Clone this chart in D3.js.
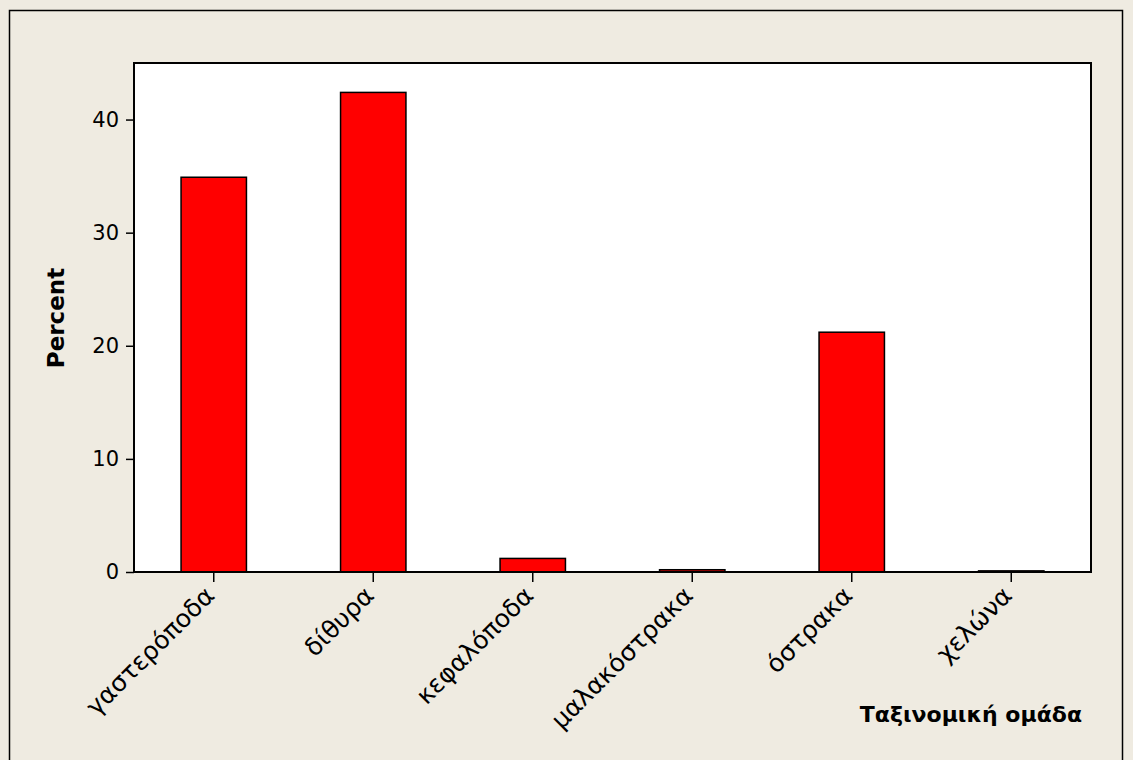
<!DOCTYPE html>
<html><head><meta charset="utf-8">
<script src="https://cdn.jsdelivr.net/npm/d3@7"></script>
<style>body{margin:0;background:#EFEBE1;} svg{display:block;}</style>
</head><body>
<svg id="c" width="1133" height="760"></svg>
<script>
const categories = ["γαστερόποδα","δίθυρα","κεφαλόποδα","μαλακόστρακα","όστρακα","χελώνα"];
const percents = [34.9, 42.4, 1.2, 0.2, 21.2, 0.1];
const yTicks = [0, 10, 20, 30, 40];
const xTitle = "Ταξινομική ομάδα";
const yTitle = "Percent";

const svg = d3.select("#c");
const W = 1133, H = 760;
const m = {left: 134, top: 63, right: 1091, bottom: 572};

svg.append("rect").attr("x",0).attr("y",0).attr("width",W).attr("height",H).attr("fill","#EFEBE1");
svg.append("rect").attr("x",9.5).attr("y",10.5).attr("width",1113).attr("height",800)
  .attr("fill","#EFEBE1").attr("stroke","#000").attr("stroke-width",1.5);
svg.append("rect").attr("x",m.left).attr("y",m.top).attr("width",m.right-m.left).attr("height",m.bottom-m.top)
  .attr("fill","#fff");

const x = d3.scaleBand().domain(categories).range([m.left, m.right]).paddingInner(0.59).paddingOuter(0.295);
const y = d3.scaleLinear().domain([0, 45]).range([m.bottom, m.top]);

svg.append("g").selectAll("rect").data(categories).join("rect")
  .attr("x", d => x(d)).attr("width", x.bandwidth())
  .attr("y", (d,i) => y(percents[i])).attr("height", (d,i) => y(0) - y(percents[i]))
  .attr("fill", "#FF0000").attr("stroke", "#000").attr("stroke-width", 1.5);

// frame
svg.append("rect").attr("x",m.left).attr("y",m.top).attr("width",m.right-m.left).attr("height",m.bottom-m.top)
  .attr("fill","none").attr("stroke","#000").attr("stroke-width",2);

const font = "'DejaVu Sans', Verdana, sans-serif";
const yAxis = svg.append("g").attr("transform", `translate(${m.left},0)`)
  .call(d3.axisLeft(y).tickValues(yTicks).tickSize(8).tickPadding(7).tickFormat(d3.format("d")));
yAxis.select(".domain").remove();
yAxis.selectAll("line").attr("stroke","#000").attr("stroke-width",1.5);
yAxis.selectAll("text").attr("font-family",font).attr("font-size",21).attr("fill","#000");

const xAxis = svg.append("g").attr("transform", `translate(0,${m.bottom})`)
  .call(d3.axisBottom(x).tickSize(10).tickFormat(""));
xAxis.select(".domain").remove();
xAxis.selectAll("line").attr("stroke","#000").attr("stroke-width",1.5);

svg.append("g").selectAll("text").data(categories).join("text")
  .attr("transform", d => `translate(${x(d)+x.bandwidth()/2-4},${m.bottom+19}) rotate(-45)`)
  .attr("text-anchor","end").attr("dy","0.35em")
  .attr("font-family",font).attr("font-size",25).attr("fill","#000")
  .text(d => d);

svg.append("text").attr("transform","translate(64,318) rotate(-90)")
  .attr("text-anchor","middle").attr("font-family",font).attr("font-weight","bold")
  .attr("font-size",23).attr("fill","#000").text(yTitle);

svg.append("text").attr("x",1082).attr("y",722).attr("text-anchor","end")
  .attr("font-family",font).attr("font-weight","bold").attr("font-size",22).attr("fill","#000").text(xTitle);
</script>
</body></html>
